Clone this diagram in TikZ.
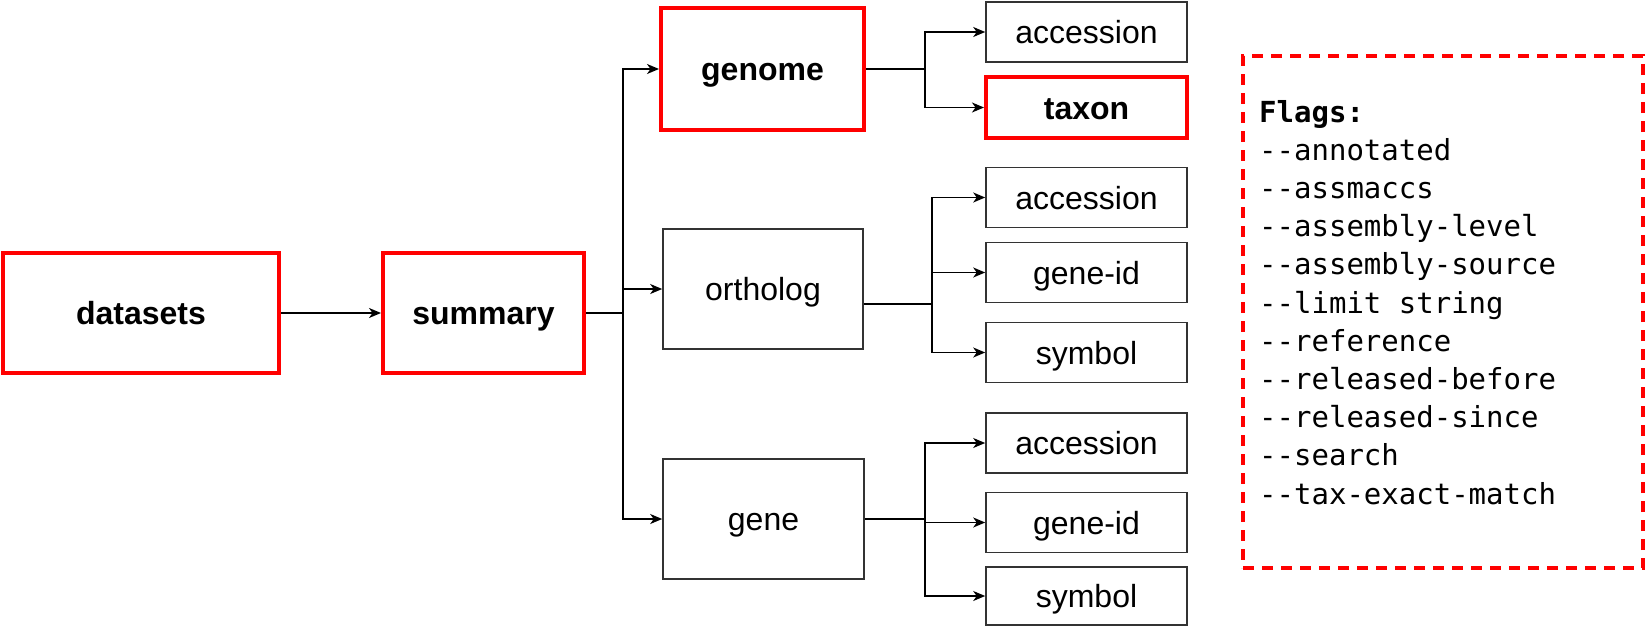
\documentclass[tikz,border=0pt]{standalone}
\usepackage{fontspec}
\setmainfont{Liberation Sans}
\setmonofont{DejaVu Sans Mono}
\usetikzlibrary{arrows.meta}
\begin{document}
\begin{tikzpicture}[x=1pt,y=-1pt,
  box/.style={draw=black!80, line width=1.6pt, fill=white, font=\fontsize{32}{36}\selectfont,
    inner sep=0pt, minimum width=201pt, minimum height=120pt, text height=23pt, text depth=0pt},
  redbox/.style={box, draw=red, line width=4pt, font=\fontsize{32}{36}\selectfont\bfseries},
  leaf/.style={box, minimum height=60pt},
  redleaf/.style={redbox, minimum height=61pt},
  conn/.style={line width=2pt, draw=black},
  arr/.style={line width=1.6pt, draw=black, -{Stealth[length=12pt,width=10pt,inset=3.5pt]}},
  flagbox/.style={draw=red, line width=3.5pt, dash pattern=on 11pt off 8pt,
    minimum width=400pt, minimum height=512pt, inner sep=0pt},
  flagtxt/.style={anchor=base west, inner sep=0pt, font=\ttfamily\fontsize{29}{35}\selectfont},
]
\useasboundingbox (0,0) rectangle (1645,626);

% main nodes
\node[redbox, minimum width=276pt] (datasets) at (141,313) {datasets};
\node[redbox] (summary) at (483.5,313) {summary};
\node[redbox, minimum width=203pt, minimum height=122pt] (genome) at (762.5,69) {genome};
\node[box, minimum width=200pt] (ortholog) at (763,289) {ortholog};
\node[box] (gene) at (763.5,519) {gene};

% leaves
\node[leaf] (acc1) at (1086.5,32) {accession};
\node[redleaf] (taxon) at (1086.5,107.5) {taxon};
\node[leaf] (acc2) at (1086.5,197.5) {accession};
\node[leaf] (gid2) at (1086.5,272.5) {gene-id};
\node[leaf] (sym2) at (1086.5,352.5) {symbol};
\node[leaf] (acc3) at (1086.5,443) {accession};
\node[leaf] (gid3) at (1086.5,522.5) {gene-id};
\node[leaf, minimum height=58pt] (sym3) at (1086.5,596) {symbol};

% connectors
\draw[arr] (datasets.east) -- (summary.west);
\coordinate (sj) at (623,313);
\draw[conn] (summary.east) -- (sj);
\draw[arr] (sj) |- (genome.west);
\draw[arr] (sj) |- (ortholog.west);
\draw[arr] (sj) |- (gene.west);

\coordinate (gj) at (925,69);
\draw[conn] (genome.east) -- (gj);
\draw[arr] (gj) |- (acc1.west);
\draw[arr] (gj) |- (taxon.west);

\coordinate (oj) at (932,304);
\draw[conn] ([yshift=-15pt]ortholog.east) -- (oj);
\draw[arr] (oj) |- (acc2.west);
\draw[arr] (oj) |- (gid2.west);
\draw[arr] (oj) |- (sym2.west);

\coordinate (ej) at (925,519);
\draw[conn] (gene.east) -- (ej);
\draw[arr] (ej) |- (acc3.west);
\draw[arr] (ej) |- (gid3.west);
\draw[arr] (ej) |- (sym3.west);

% flags
\node[flagbox] (flags) at (1443,312) {};
\foreach \t [count=\i from 0] in {{\bfseries Flags:},--annotated,--assmaccs,--assembly-level,--assembly-source,--limit string,--reference,--released-before,--released-since,--search,--tax-exact-match}
  \node[flagtxt] (fl\i) at (1259,122+38.2*\i) {\t};
\end{tikzpicture}
\end{document}
